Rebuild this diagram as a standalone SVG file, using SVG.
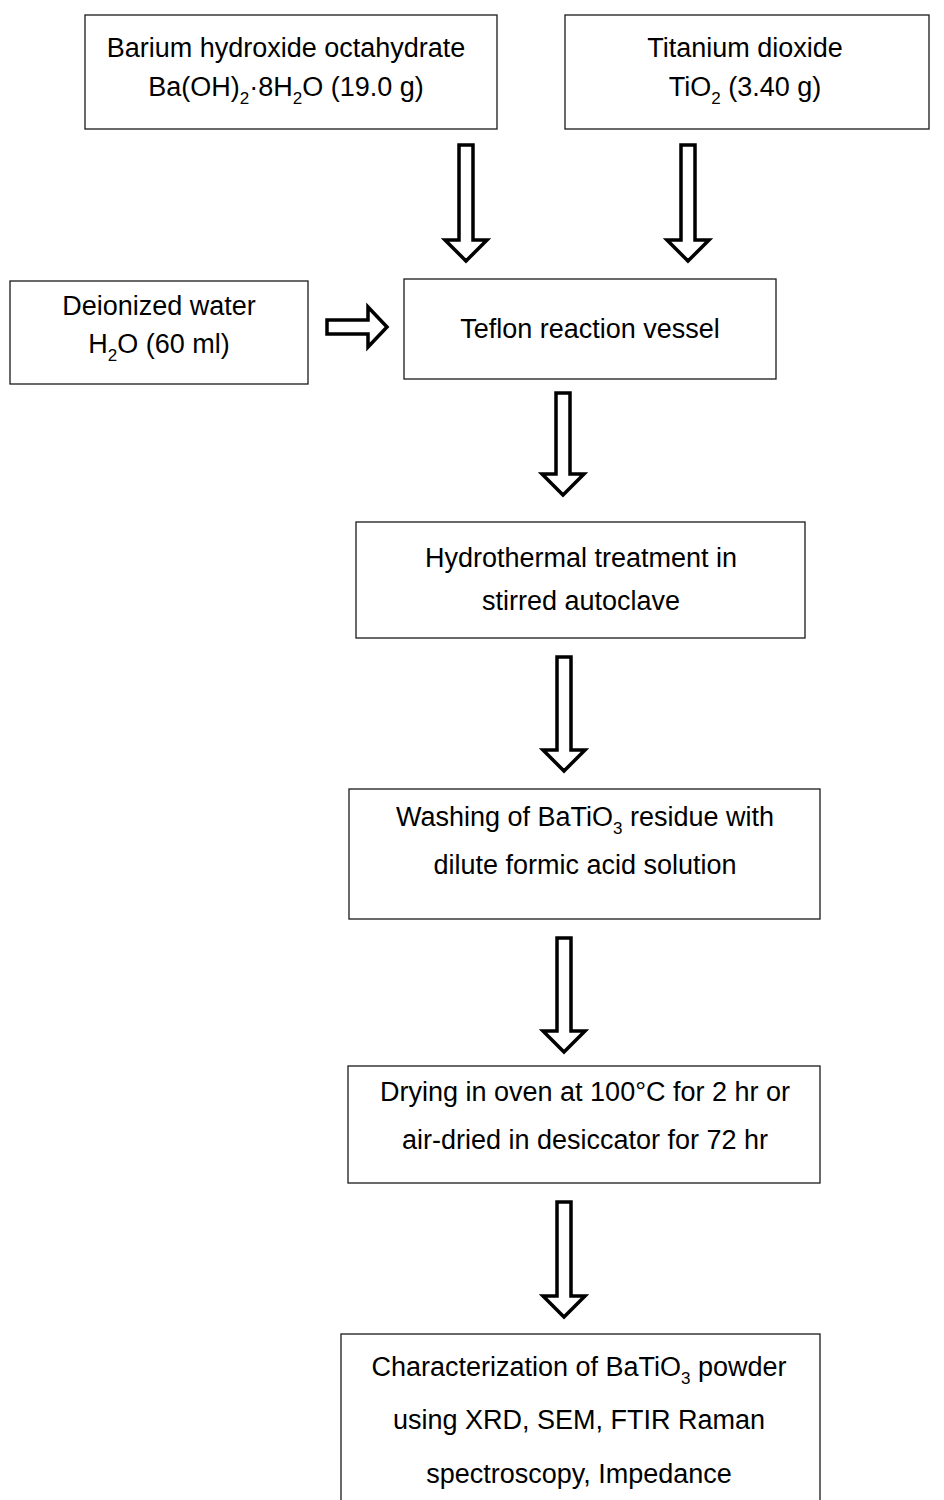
<svg xmlns="http://www.w3.org/2000/svg" width="944" height="1500" viewBox="0 0 944 1500">
<style>
.box{fill:#fff;stroke:#1a1a1a;stroke-width:1.3}
.arr{fill:#fff;stroke:#000;stroke-width:3.5;stroke-linejoin:miter}
text{font-family:"Liberation Sans",Arial,sans-serif;font-size:27px;fill:#000;text-anchor:middle}
.sub{font-size:17px}
</style>
<rect width="944" height="1500" fill="#fff"/>
<g id="n1"><rect class="box" x="85" y="15" width="412" height="114"/>
<text x="286" y="57">Barium hydroxide octahydrate</text>
<text x="286" y="96">Ba(OH)<tspan class="sub" dy="8">2</tspan><tspan dy="-8">·8H</tspan><tspan class="sub" dy="8">2</tspan><tspan dy="-8">O (19.0 g)</tspan></text></g>
<g id="n2"><rect class="box" x="565" y="15" width="364" height="114"/>
<text x="745" y="57">Titanium dioxide</text>
<text x="745" y="96">TiO<tspan class="sub" dy="8">2</tspan><tspan dy="-8"> (3.40 g)</tspan></text></g>
<g id="n3"><rect class="box" x="10" y="281" width="298" height="103"/>
<text x="159" y="315">Deionized water</text>
<text x="159" y="353">H<tspan class="sub" dy="8">2</tspan><tspan dy="-8">O (60 ml)</tspan></text></g>
<g id="n4"><rect class="box" x="404" y="279" width="372" height="100"/>
<text x="590" y="338">Teflon reaction vessel</text></g>
<g id="n5"><rect class="box" x="356" y="522" width="449" height="116"/>
<text x="581" y="567">Hydrothermal treatment in</text>
<text x="581" y="610">stirred autoclave</text></g>
<g id="n6"><rect class="box" x="349" y="789" width="471" height="130"/>
<text x="585" y="826">Washing of BaTiO<tspan class="sub" dy="8">3</tspan><tspan dy="-8"> residue with</tspan></text>
<text x="585" y="874">dilute formic acid solution</text></g>
<g id="n7"><rect class="box" x="348" y="1066" width="472" height="117"/>
<text x="585" y="1101">Drying in oven at 100°C for 2 hr or</text>
<text x="585" y="1149">air-dried in desiccator for 72 hr</text></g>
<g id="n8"><rect class="box" x="341" y="1334" width="479" height="180"/>
<text x="579" y="1376">Characterization of BaTiO<tspan class="sub" dy="8">3</tspan><tspan dy="-8"> powder</tspan></text>
<text x="579" y="1429">using XRD, SEM, FTIR Raman</text>
<text x="579" y="1483">spectroscopy, Impedance</text></g>
<g id="connectors">
<path class="arr" d="M459,145 H473 V240 H487 L466,261 L445,240 H459 Z"/>
<path class="arr" d="M681,145 H695 V240 H709 L688,261 L667,240 H681 Z"/>
<path class="arr" d="M327,320 H368 V307 L387,327 L368,347 V334 H327 Z"/>
<path class="arr" d="M556,393 H570 V474 H584 L563,495 L542,474 H556 Z"/>
<path class="arr" d="M557,657 H571 V750 H585 L564,771 L543,750 H557 Z"/>
<path class="arr" d="M557,938 H571 V1031 H585 L564,1052 L543,1031 H557 Z"/>
<path class="arr" d="M557,1202 H571 V1296 H585 L564,1317 L543,1296 H557 Z"/>
</g>
</svg>
